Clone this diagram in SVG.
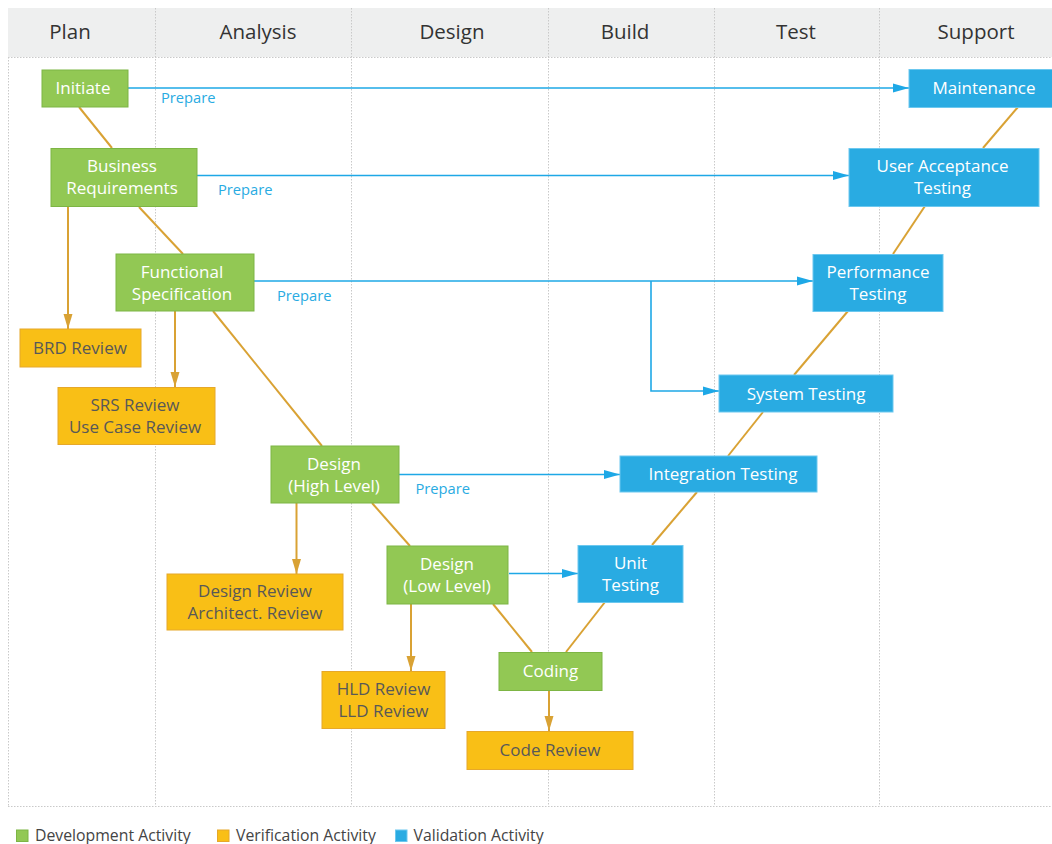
<svg xmlns="http://www.w3.org/2000/svg" width="1052" height="844" viewBox="0 0 1052 844">
<style>
  text { font-family: "Open Sans", "Noto Sans", "DejaVu Sans", sans-serif; }
  .hdr { font-size: 20.5px; fill: #333333; text-anchor: middle; }
  .grid { stroke: #c9c9c9; stroke-width: 1; stroke-dasharray: 1.5 1.5; fill: none; }
  .dev rect { fill: #92c854; stroke: #7db544; stroke-width: 1; }
  .ver rect { fill: #f9bf16; stroke: #e6a82a; stroke-width: 1; }
  .val rect { fill: #29abe2; stroke: #6cc8ef; stroke-width: 1; }
  .dev text, .val text { fill: #ffffff; font-size: 17px; text-anchor: middle; }
  .ver text { fill: #585858; font-size: 17px; text-anchor: middle; }
  .vline { stroke: #d9a234; stroke-width: 2; fill: none; }
  .blue { stroke: #1ea8e6; stroke-width: 1.6; fill: none; }
  .prep { fill: #29abe2; font-size: 14.7px; }
  .leg { fill: #444444; font-size: 15.8px; }
</style>
<defs>
  <marker id="ab" markerUnits="userSpaceOnUse" markerWidth="16" markerHeight="10" refX="16" refY="5" orient="auto">
    <path d="M0,0.5 L16,5 L0,9.5 z" fill="#1ea8e6"/>
  </marker>
  <marker id="ao" markerUnits="userSpaceOnUse" markerWidth="15" markerHeight="10" refX="15" refY="5" orient="auto">
    <path d="M0,0.5 L15,5 L0,9.5 z" fill="#d9a234"/>
  </marker>
</defs>

<rect x="0" y="0" width="1052" height="844" fill="#ffffff"/>

<g id="lanes">
  <rect x="8" y="8" width="1044" height="49" fill="#eeefef"/>
  <line class="grid" x1="8" y1="57.5" x2="1052" y2="57.5"/>
  <line class="grid" x1="8.5" y1="57" x2="8.5" y2="806"/>
  <line class="grid" x1="8" y1="806.5" x2="1052" y2="806.5"/>
  <line class="grid" x1="155.5" y1="8" x2="155.5" y2="806"/>
  <line class="grid" x1="351.5" y1="8" x2="351.5" y2="806"/>
  <line class="grid" x1="548.5" y1="8" x2="548.5" y2="806"/>
  <line class="grid" x1="714.5" y1="8" x2="714.5" y2="806"/>
  <line class="grid" x1="879.5" y1="8" x2="879.5" y2="806"/>
  <text class="hdr" x="70" y="39">Plan</text>
  <text class="hdr" x="258" y="39">Analysis</text>
  <text class="hdr" x="452" y="39">Design</text>
  <text class="hdr" x="625" y="39">Build</text>
  <text class="hdr" x="796" y="39">Test</text>
  <text class="hdr" x="976" y="39">Support</text>
</g>

<g id="connectors">
  <!-- V-model chain -->
  <line class="vline" x1="79" y1="107" x2="112" y2="148"/>
  <line class="vline" x1="139" y1="207" x2="183" y2="254"/>
  <line class="vline" x1="213" y1="311" x2="322" y2="446"/>
  <line class="vline" x1="372" y1="503" x2="410" y2="546"/>
  <line class="vline" x1="493" y1="604" x2="532" y2="652"/>
  <line class="vline" x1="566" y1="652" x2="605" y2="602"/>
  <line class="vline" x1="652" y1="545" x2="697" y2="492"/>
  <line class="vline" x1="728" y1="456" x2="763" y2="412"/>
  <line class="vline" x1="794" y1="375" x2="848" y2="311"/>
  <line class="vline" x1="893" y1="254" x2="925" y2="206"/>
  <line class="vline" x1="983" y1="148" x2="1018" y2="107"/>
  <!-- verification arrows -->
  <line class="vline" x1="68" y1="207" x2="68" y2="329" marker-end="url(#ao)"/>
  <line class="vline" x1="175" y1="311" x2="175" y2="387" marker-end="url(#ao)"/>
  <line class="vline" x1="296.5" y1="503" x2="296.5" y2="574" marker-end="url(#ao)"/>
  <line class="vline" x1="411" y1="604" x2="411" y2="671" marker-end="url(#ao)"/>
  <line class="vline" x1="549" y1="690" x2="549" y2="731" marker-end="url(#ao)"/>
  <!-- prepare arrows -->
  <line class="blue" x1="128" y1="88" x2="909" y2="88" marker-end="url(#ab)"/>
  <line class="blue" x1="197" y1="175.5" x2="849" y2="175.5" marker-end="url(#ab)"/>
  <line class="blue" x1="254" y1="281" x2="813" y2="281" marker-end="url(#ab)"/>
  <polyline class="blue" points="651,281 651,391 719,391" marker-end="url(#ab)"/>
  <line class="blue" x1="399" y1="474.5" x2="620" y2="474.5" marker-end="url(#ab)"/>
  <line class="blue" x1="509" y1="573.5" x2="578" y2="573.5" marker-end="url(#ab)"/>
  <text class="prep" x="161" y="103">Prepare</text>
  <text class="prep" x="218" y="195">Prepare</text>
  <text class="prep" x="277" y="300.5">Prepare</text>
  <text class="prep" x="415.5" y="494">Prepare</text>
</g>

<g id="initiate" class="dev">
  <rect x="42" y="70" width="86" height="37"/>
  <text x="83" y="94">Initiate</text>
</g>
<g id="business-requirements" class="dev">
  <rect x="51" y="148.5" width="146" height="58"/>
  <text x="122" y="172">Business</text>
  <text x="122" y="194">Requirements</text>
</g>
<g id="functional-specification" class="dev">
  <rect x="116" y="254" width="138" height="57"/>
  <text x="182" y="277.5">Functional</text>
  <text x="182" y="299.5">Specification</text>
</g>
<g id="brd-review" class="ver">
  <rect x="20" y="329" width="121" height="38"/>
  <text x="80" y="354">BRD Review</text>
</g>
<g id="srs-review" class="ver">
  <rect x="58" y="387.5" width="157" height="57"/>
  <text x="135" y="410.5">SRS Review</text>
  <text x="135" y="432.5">Use Case Review</text>
</g>
<g id="design-high" class="dev">
  <rect x="271" y="446" width="128" height="57"/>
  <text x="334" y="469.5">Design</text>
  <text x="334" y="491.5">(High Level)</text>
</g>
<g id="design-review" class="ver">
  <rect x="167" y="574" width="176" height="56"/>
  <text x="255" y="596.5">Design Review</text>
  <text x="255" y="618.5">Architect. Review</text>
</g>
<g id="design-low" class="dev">
  <rect x="387" y="546" width="121" height="58"/>
  <text x="447" y="570">Design</text>
  <text x="447" y="592">(Low Level)</text>
</g>
<g id="hld-review" class="ver">
  <rect x="322" y="671.5" width="123" height="57"/>
  <text x="383.5" y="695">HLD Review</text>
  <text x="383.5" y="717">LLD Review</text>
</g>
<g id="coding" class="dev">
  <rect x="499" y="652.5" width="103" height="38"/>
  <text x="550.5" y="677">Coding</text>
</g>
<g id="code-review" class="ver">
  <rect x="467" y="731.5" width="166" height="38"/>
  <text x="550" y="756">Code Review</text>
</g>
<g id="unit-testing" class="val">
  <rect x="578" y="545.5" width="105" height="57"/>
  <text x="630.5" y="569">Unit</text>
  <text x="630.5" y="591">Testing</text>
</g>
<g id="integration-testing" class="val">
  <rect x="620" y="456" width="197" height="36"/>
  <text x="723" y="480">Integration Testing</text>
</g>
<g id="system-testing" class="val">
  <rect x="719" y="375" width="174" height="37"/>
  <text x="806" y="399.5">System Testing</text>
</g>
<g id="performance-testing" class="val">
  <rect x="813" y="254.5" width="130" height="57"/>
  <text x="878" y="277.5">Performance</text>
  <text x="878" y="299.5">Testing</text>
</g>
<g id="user-acceptance-testing" class="val">
  <rect x="849" y="148.5" width="190" height="58"/>
  <text x="942.5" y="172">User Acceptance</text>
  <text x="942.5" y="194">Testing</text>
</g>
<g id="maintenance" class="val">
  <rect x="909" y="69.5" width="160" height="38"/>
  <text x="984" y="94">Maintenance</text>
</g>

<g id="legend">
  <rect x="16.5" y="830" width="11.5" height="11.5" fill="#92c854" stroke="#7db544"/>
  <text class="leg" x="35" y="841">Development Activity</text>
  <rect x="217.5" y="830" width="11.5" height="11.5" fill="#f9bf16" stroke="#e6a82a"/>
  <text class="leg" x="236" y="841">Verification Activity</text>
  <rect x="395.5" y="830" width="11.5" height="11.5" fill="#29abe2" stroke="#6cc8ef"/>
  <text class="leg" x="413.5" y="841">Validation Activity</text>
</g>
</svg>
